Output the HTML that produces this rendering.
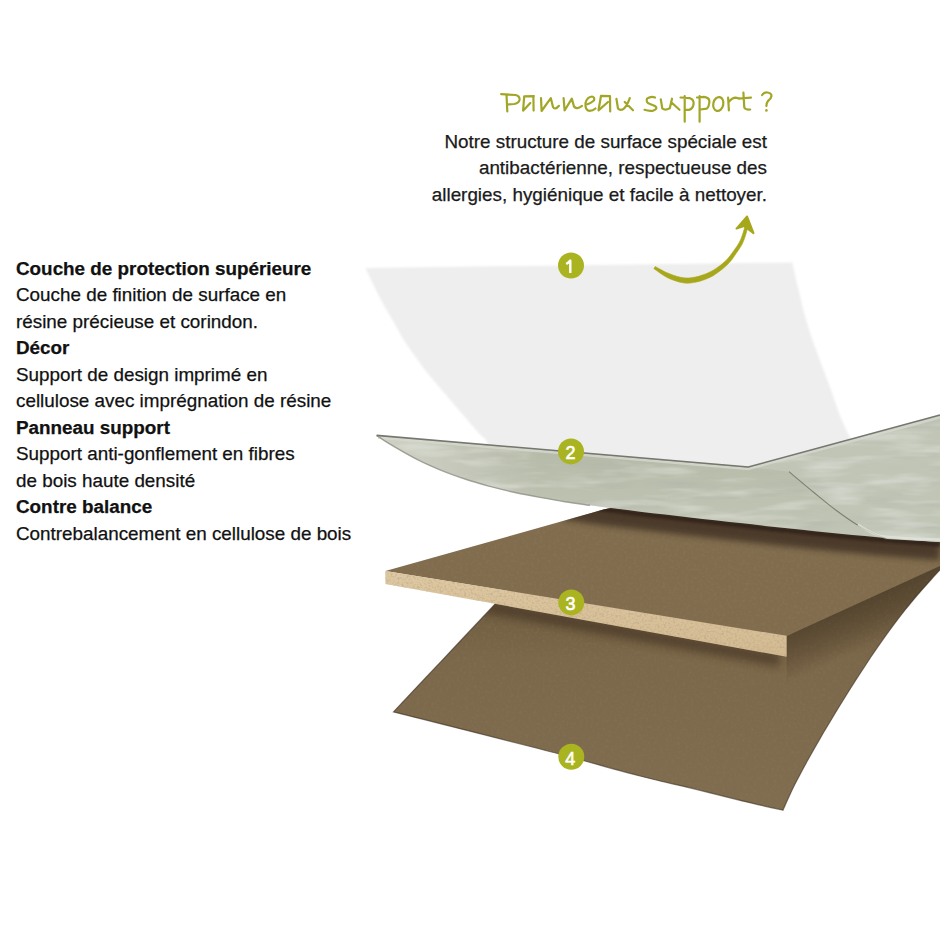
<!DOCTYPE html>
<html><head><meta charset="utf-8">
<style>
html,body{margin:0;padding:0;background:#fff;}
body{width:940px;height:940px;position:relative;overflow:hidden;font-family:"Liberation Sans",sans-serif;}
svg{position:absolute;left:0;top:0;}
.t{position:absolute;font-size:18.85px;line-height:26.5px;color:#111;white-space:nowrap;-webkit-text-stroke:0.25px #111;}
.left{left:16px;top:255.5px;}
.right{right:173px;top:128.5px;text-align:right;color:#1c1c1c;}
</style></head>
<body>
<svg width="940" height="940" viewBox="0 0 940 940">
<defs>
<linearGradient id="g4" gradientUnits="userSpaceOnUse" x1="0" y1="600" x2="0" y2="800"><stop offset="0" stop-color="#6f5d40"/><stop offset="0.3" stop-color="#7b6749"/><stop offset="1" stop-color="#806c4e"/></linearGradient>
<linearGradient id="gb" x1="0" y1="0" x2="0" y2="1"><stop offset="0" stop-color="#dfc9a2"/><stop offset="1" stop-color="#d3ba91"/></linearGradient>
<linearGradient id="g2" gradientUnits="userSpaceOnUse" x1="0" y1="440" x2="0" y2="520"><stop offset="0" stop-color="#b5b9a6"/><stop offset="1" stop-color="#c0c4b4"/></linearGradient>
<linearGradient id="gr" gradientUnits="userSpaceOnUse" x1="863" y1="601" x2="881" y2="641"><stop offset="0" stop-color="#3a2c1c" stop-opacity="0.5"/><stop offset="0.5" stop-color="#3a2c1c" stop-opacity="0.3"/><stop offset="1" stop-color="#3a2c1c" stop-opacity="0"/></linearGradient>
<linearGradient id="gs" gradientUnits="userSpaceOnUse" x1="586" y1="620.4" x2="580.7" y2="652"><stop offset="0" stop-color="#3e3020" stop-opacity="0.45"/><stop offset="1" stop-color="#3e3020" stop-opacity="0"/></linearGradient>
<linearGradient id="gt" gradientUnits="userSpaceOnUse" x1="0" y1="500" x2="0" y2="560"><stop offset="0" stop-color="#3e3020" stop-opacity="0.6"/><stop offset="1" stop-color="#3e3020" stop-opacity="0"/></linearGradient>
<filter id="bl4" x="-5%" y="-50%" width="110%" height="200%"><feGaussianBlur stdDeviation="4"/></filter>
<filter id="bl3" x="-5%" y="-50%" width="110%" height="200%"><feGaussianBlur stdDeviation="3"/></filter>
<filter id="bl1" x="-5%" y="-50%" width="110%" height="200%"><feGaussianBlur stdDeviation="1"/></filter>
<filter id="speck" x="0" y="0" width="100%" height="100%"><feTurbulence type="fractalNoise" baseFrequency="0.45" numOctaves="2" seed="7" result="n"/><feColorMatrix in="n" type="matrix" values="0 0 0 0 0.45  0 0 0 0 0.36  0 0 0 0 0.25  3 0 0 0 -1.35" result="a"/><feComposite in="a" in2="SourceGraphic" operator="in"/></filter>
<filter id="grain" x="0" y="0" width="100%" height="100%"><feTurbulence type="fractalNoise" baseFrequency="0.35" numOctaves="2" seed="3" result="n"/><feColorMatrix in="n" type="matrix" values="0 0 0 0 0.3  0 0 0 0 0.24  0 0 0 0 0.16  2 0 0 0 -0.95" result="a"/><feComposite in="a" in2="SourceGraphic" operator="in"/></filter>
<filter id="marb" x="0" y="0" width="100%" height="100%"><feTurbulence type="fractalNoise" baseFrequency="0.012 0.1" numOctaves="4" seed="11" result="n"/><feColorMatrix in="n" type="matrix" values="0 0 0 0 0.42  0 0 0 0 0.44  0 0 0 0 0.4  3.2 0 0 0 -1.6" result="a"/><feComposite in="a" in2="SourceGraphic" operator="in"/></filter>
<filter id="marbl" x="0" y="0" width="100%" height="100%"><feTurbulence type="fractalNoise" baseFrequency="0.015 0.09" numOctaves="3" seed="5" result="n"/><feColorMatrix in="n" type="matrix" values="0 0 0 0 0.95  0 0 0 0 0.96  0 0 0 0 0.94  3.2 0 0 0 -1.55" result="a"/><feComposite in="a" in2="SourceGraphic" operator="in"/></filter>
<filter id="bl07" x="-5%" y="-5%" width="110%" height="110%"><feGaussianBlur stdDeviation="0.9"/></filter>
<linearGradient id="gtip" gradientUnits="userSpaceOnUse" x1="376" y1="0" x2="540" y2="0"><stop offset="0" stop-color="#fff" stop-opacity="0.35"/><stop offset="1" stop-color="#fff" stop-opacity="0"/></linearGradient>
<clipPath id="c4"><path d="M520,578 L700,545 L940,520 L940,569.8 C938.5,571.5 934.5,575.8 930.7,580.0 C926.9,584.2 921.7,590.0 917.4,595.0 C913.1,600.0 909.1,605.0 905.1,610.0 C901.1,615.0 897.3,620.0 893.6,625.0 C889.9,630.0 886.2,635.0 882.7,640.0 C879.2,645.0 875.7,650.0 872.3,655.0 C868.9,660.0 865.7,665.0 862.4,670.0 C859.1,675.0 855.9,680.0 852.7,685.0 C849.5,690.0 846.4,695.0 843.3,700.0 C840.2,705.0 837.1,710.0 834.1,715.0 C831.1,720.0 828.1,725.0 825.1,730.0 C822.1,735.0 819.3,740.0 816.4,745.0 C813.5,750.0 810.7,755.0 807.9,760.0 C805.1,765.0 802.4,770.0 799.8,775.0 C797.2,780.0 794.9,784.1 792.1,790.0 C789.3,795.9 784.5,806.8 783.0,810.2 C776.2,808.7 757.4,804.6 742.1,800.9 C726.8,797.2 708.0,792.2 691.0,788.1 C674.0,784.0 665.5,782.6 640.0,776.0 C614.5,769.4 579.3,759.2 538.2,748.5 C497.1,737.8 417.6,718.0 393.5,711.9 C401.8,703.0 426.8,676.5 443.5,658.8 C460.2,641.1 480.8,619.2 493.5,605.7 C506.2,592.2 515.6,582.2 520.0,577.5 Z"/></clipPath>
<clipPath id="c3"><path d="M385.4,571 L604.5,509.3 L940,445 L940,566 L786.6,636 Z"/></clipPath>
</defs>
<path d="M520,578 L700,545 L940,520 L940,569.8 C938.5,571.5 934.5,575.8 930.7,580.0 C926.9,584.2 921.7,590.0 917.4,595.0 C913.1,600.0 909.1,605.0 905.1,610.0 C901.1,615.0 897.3,620.0 893.6,625.0 C889.9,630.0 886.2,635.0 882.7,640.0 C879.2,645.0 875.7,650.0 872.3,655.0 C868.9,660.0 865.7,665.0 862.4,670.0 C859.1,675.0 855.9,680.0 852.7,685.0 C849.5,690.0 846.4,695.0 843.3,700.0 C840.2,705.0 837.1,710.0 834.1,715.0 C831.1,720.0 828.1,725.0 825.1,730.0 C822.1,735.0 819.3,740.0 816.4,745.0 C813.5,750.0 810.7,755.0 807.9,760.0 C805.1,765.0 802.4,770.0 799.8,775.0 C797.2,780.0 794.9,784.1 792.1,790.0 C789.3,795.9 784.5,806.8 783.0,810.2 C776.2,808.7 757.4,804.6 742.1,800.9 C726.8,797.2 708.0,792.2 691.0,788.1 C674.0,784.0 665.5,782.6 640.0,776.0 C614.5,769.4 579.3,759.2 538.2,748.5 C497.1,737.8 417.6,718.0 393.5,711.9 C401.8,703.0 426.8,676.5 443.5,658.8 C460.2,641.1 480.8,619.2 493.5,605.7 C506.2,592.2 515.6,582.2 520.0,577.5 Z" fill="url(#g4)"/>
<path d="M520,578 L700,545 L940,520 L940,569.8 C938.5,571.5 934.5,575.8 930.7,580.0 C926.9,584.2 921.7,590.0 917.4,595.0 C913.1,600.0 909.1,605.0 905.1,610.0 C901.1,615.0 897.3,620.0 893.6,625.0 C889.9,630.0 886.2,635.0 882.7,640.0 C879.2,645.0 875.7,650.0 872.3,655.0 C868.9,660.0 865.7,665.0 862.4,670.0 C859.1,675.0 855.9,680.0 852.7,685.0 C849.5,690.0 846.4,695.0 843.3,700.0 C840.2,705.0 837.1,710.0 834.1,715.0 C831.1,720.0 828.1,725.0 825.1,730.0 C822.1,735.0 819.3,740.0 816.4,745.0 C813.5,750.0 810.7,755.0 807.9,760.0 C805.1,765.0 802.4,770.0 799.8,775.0 C797.2,780.0 794.9,784.1 792.1,790.0 C789.3,795.9 784.5,806.8 783.0,810.2 C776.2,808.7 757.4,804.6 742.1,800.9 C726.8,797.2 708.0,792.2 691.0,788.1 C674.0,784.0 665.5,782.6 640.0,776.0 C614.5,769.4 579.3,759.2 538.2,748.5 C497.1,737.8 417.6,718.0 393.5,711.9 C401.8,703.0 426.8,676.5 443.5,658.8 C460.2,641.1 480.8,619.2 493.5,605.7 C506.2,592.2 515.6,582.2 520.0,577.5 Z" fill="#000" filter="url(#grain)" opacity="0.25"/>
<path d="M940,569.8 C938.5,571.5 934.5,575.8 930.7,580.0 C926.9,584.2 921.7,590.0 917.4,595.0 C913.1,600.0 909.1,605.0 905.1,610.0 C901.1,615.0 897.3,620.0 893.6,625.0 C889.9,630.0 886.2,635.0 882.7,640.0 C879.2,645.0 875.7,650.0 872.3,655.0 C868.9,660.0 865.7,665.0 862.4,670.0 C859.1,675.0 855.9,680.0 852.7,685.0 C849.5,690.0 846.4,695.0 843.3,700.0 C840.2,705.0 837.1,710.0 834.1,715.0 C831.1,720.0 828.1,725.0 825.1,730.0 C822.1,735.0 819.3,740.0 816.4,745.0 C813.5,750.0 810.7,755.0 807.9,760.0 C805.1,765.0 802.4,770.0 799.8,775.0 C797.2,780.0 794.9,784.1 792.1,790.0 C789.3,795.9 784.5,806.8 783.0,810.2 C776.2,808.7 757.4,804.6 742.1,800.9 C726.8,797.2 708.0,792.2 691.0,788.1 C674.0,784.0 665.5,782.6 640.0,776.0 C614.5,769.4 579.3,759.2 538.2,748.5 C497.1,737.8 417.6,718.0 393.5,711.9 C401.8,703.0 426.8,676.5 443.5,658.8 C460.2,641.1 480.8,619.2 493.5,605.7 C506.2,592.2 515.6,582.2 520.0,577.5" fill="none" stroke="#3b2e1f" stroke-width="1.2" opacity="0.6"/>
<g clip-path="url(#c4)">
<path d="M786.6,636 L940,562 L940,760 L786.6,760 Z" fill="url(#gr)"/>
<path d="M385.4,588 L780,660" fill="none" stroke="#3a2c1c" stroke-width="14" opacity="0.55" filter="url(#bl4)"/>
</g>
<path d="M385.4,571 L604.5,509.3 L940,445 L940,566 L786.6,636 Z" fill="#816d4e"/>
<path d="M385.4,571 L604.5,509.3 L940,445 L940,566 L786.6,636 Z" fill="#000" filter="url(#grain)" opacity="0.25"/>
<g clip-path="url(#c3)">
<path d="M565,501.7 C569.2,502.3 581.7,504.1 590.0,505.3 C598.3,506.5 606.7,507.5 615.0,508.6 C623.3,509.7 631.7,510.7 640.0,511.7 C648.3,512.7 656.7,513.6 665.0,514.6 C673.3,515.6 681.7,516.5 690.0,517.5 C698.3,518.5 706.7,519.4 715.0,520.3 C723.3,521.2 731.7,522.2 740.0,523.1 C748.3,524.0 756.7,525.0 765.0,525.9 C773.3,526.8 781.7,527.7 790.0,528.6 C798.3,529.5 806.7,530.4 815.0,531.2 C823.3,532.1 831.7,532.9 840.0,533.7 C848.3,534.5 856.7,535.3 865.0,536.1 C873.3,536.9 881.7,537.6 890.0,538.3 C898.3,539.0 906.7,539.6 915.0,540.3 C923.3,540.9 935.8,541.9 940.0,542.2" fill="none" stroke="#35281a" stroke-width="22" opacity="0.7" filter="url(#bl3)" transform="translate(0,7)"/>
<path d="M565,501.7 C569.2,502.3 581.7,504.1 590.0,505.3 C598.3,506.5 606.7,507.5 615.0,508.6 C623.3,509.7 631.7,510.7 640.0,511.7 C648.3,512.7 656.7,513.6 665.0,514.6 C673.3,515.6 681.7,516.5 690.0,517.5 C698.3,518.5 706.7,519.4 715.0,520.3 C723.3,521.2 731.7,522.2 740.0,523.1 C748.3,524.0 756.7,525.0 765.0,525.9 C773.3,526.8 781.7,527.7 790.0,528.6 C798.3,529.5 806.7,530.4 815.0,531.2 C823.3,532.1 831.7,532.9 840.0,533.7 C848.3,534.5 856.7,535.3 865.0,536.1 C873.3,536.9 881.7,537.6 890.0,538.3 C898.3,539.0 906.7,539.6 915.0,540.3 C923.3,540.9 935.8,541.9 940.0,542.2" fill="none" stroke="#2a1f14" stroke-width="5" opacity="0.7" filter="url(#bl1)" transform="translate(0,2)"/>
</g>
<path d="M385.4,571 L786.6,635.8 L786.6,656.8 L385.4,584 Z" fill="url(#gb)"/>
<path d="M385.4,571 L786.6,635.8 L786.6,656.8 L385.4,584 Z" fill="#000" filter="url(#speck)" opacity="0.5"/>
<path d="M365.5,268 L792.3,262.5 C793.2,266.4 795.4,276.6 797.7,286.2 C800.0,295.8 803.0,309.2 806.2,320.2 C809.4,331.2 812.9,341.1 816.8,352.1 C820.7,363.1 825.7,375.6 829.6,386.2 C833.5,396.8 837.0,407.9 840.2,416.0 C843.4,424.1 846.9,430.9 848.7,435.1 C850.5,439.3 850.6,440.0 851.0,441.0 L853,470 L490,470 L487,442 C486.8,441.6 487.5,441.6 485.5,439.4 C483.5,437.2 478.8,433.0 474.9,428.7 C471.0,424.4 466.4,418.8 462.1,413.8 C457.9,408.8 453.6,403.9 449.4,398.9 C445.1,393.9 440.5,388.6 436.6,384.0 C432.7,379.4 429.6,375.9 426.0,371.3 C422.4,366.7 418.9,361.4 415.3,356.4 C411.8,351.4 407.9,346.5 404.7,341.5 C401.5,336.5 399.0,331.6 396.2,326.6 C393.4,321.6 390.3,316.3 387.7,311.7 C385.1,307.1 382.9,303.5 380.5,298.9 C378.1,294.3 375.5,289.1 373.0,284.0 C370.5,278.9 366.8,270.7 365.5,268.0 Z" fill="#eeeeee" filter="url(#bl07)"/>
<path d="M376.6,435.4 L748.3,467 L940,415 L940,542 C935.8,541.9 923.3,540.9 915.0,540.3 C906.7,539.6 898.3,539.0 890.0,538.3 C881.7,537.6 873.3,536.9 865.0,536.1 C856.7,535.3 848.3,534.5 840.0,533.7 C831.7,532.9 823.3,532.1 815.0,531.2 C806.7,530.4 798.3,529.5 790.0,528.6 C781.7,527.7 773.3,526.8 765.0,525.9 C756.7,525.0 748.3,524.0 740.0,523.1 C731.7,522.2 723.3,521.2 715.0,520.3 C706.7,519.4 698.3,518.5 690.0,517.5 C681.7,516.5 673.3,515.6 665.0,514.6 C656.7,513.6 648.3,512.7 640.0,511.7 C631.7,510.7 623.3,509.7 615.0,508.6 C606.7,507.5 598.3,506.5 590.0,505.3 C581.7,504.1 573.3,503.0 565.0,501.7 C556.7,500.4 548.3,498.9 540.0,497.4 C531.7,495.9 523.3,494.3 515.0,492.5 C506.7,490.7 498.3,488.6 490.0,486.4 C481.7,484.1 473.3,481.8 465.0,479.0 C456.7,476.2 448.3,473.2 440.0,469.8 C431.7,466.4 423.3,462.7 415.0,458.4 C406.7,454.1 396.4,448.0 390.0,444.2 C383.6,440.4 378.8,436.9 376.6,435.4 Z" fill="url(#g2)"/>
<path d="M748.3,467 L940,415 L940,542 L886.5,539 C884.8,538.2 880.6,536.7 876.0,534.5 C871.4,532.3 865.7,530.1 859.0,526.0 C852.3,521.9 843.1,515.5 835.7,510.0 C828.3,504.5 822.3,499.4 814.5,493.0 C806.7,486.6 793.2,475.2 789.0,471.7 Z" fill="#c0c5b6"/>
<path d="M376.6,435.4 L748.3,467 L940,415 L940,542 C935.8,541.9 923.3,540.9 915.0,540.3 C906.7,539.6 898.3,539.0 890.0,538.3 C881.7,537.6 873.3,536.9 865.0,536.1 C856.7,535.3 848.3,534.5 840.0,533.7 C831.7,532.9 823.3,532.1 815.0,531.2 C806.7,530.4 798.3,529.5 790.0,528.6 C781.7,527.7 773.3,526.8 765.0,525.9 C756.7,525.0 748.3,524.0 740.0,523.1 C731.7,522.2 723.3,521.2 715.0,520.3 C706.7,519.4 698.3,518.5 690.0,517.5 C681.7,516.5 673.3,515.6 665.0,514.6 C656.7,513.6 648.3,512.7 640.0,511.7 C631.7,510.7 623.3,509.7 615.0,508.6 C606.7,507.5 598.3,506.5 590.0,505.3 C581.7,504.1 573.3,503.0 565.0,501.7 C556.7,500.4 548.3,498.9 540.0,497.4 C531.7,495.9 523.3,494.3 515.0,492.5 C506.7,490.7 498.3,488.6 490.0,486.4 C481.7,484.1 473.3,481.8 465.0,479.0 C456.7,476.2 448.3,473.2 440.0,469.8 C431.7,466.4 423.3,462.7 415.0,458.4 C406.7,454.1 396.4,448.0 390.0,444.2 C383.6,440.4 378.8,436.9 376.6,435.4 Z" fill="#000" filter="url(#marb)" opacity="0.3"/>
<path d="M376.6,435.4 L748.3,467 L940,415 L940,542 C935.8,541.9 923.3,540.9 915.0,540.3 C906.7,539.6 898.3,539.0 890.0,538.3 C881.7,537.6 873.3,536.9 865.0,536.1 C856.7,535.3 848.3,534.5 840.0,533.7 C831.7,532.9 823.3,532.1 815.0,531.2 C806.7,530.4 798.3,529.5 790.0,528.6 C781.7,527.7 773.3,526.8 765.0,525.9 C756.7,525.0 748.3,524.0 740.0,523.1 C731.7,522.2 723.3,521.2 715.0,520.3 C706.7,519.4 698.3,518.5 690.0,517.5 C681.7,516.5 673.3,515.6 665.0,514.6 C656.7,513.6 648.3,512.7 640.0,511.7 C631.7,510.7 623.3,509.7 615.0,508.6 C606.7,507.5 598.3,506.5 590.0,505.3 C581.7,504.1 573.3,503.0 565.0,501.7 C556.7,500.4 548.3,498.9 540.0,497.4 C531.7,495.9 523.3,494.3 515.0,492.5 C506.7,490.7 498.3,488.6 490.0,486.4 C481.7,484.1 473.3,481.8 465.0,479.0 C456.7,476.2 448.3,473.2 440.0,469.8 C431.7,466.4 423.3,462.7 415.0,458.4 C406.7,454.1 396.4,448.0 390.0,444.2 C383.6,440.4 378.8,436.9 376.6,435.4 Z" fill="#000" filter="url(#marbl)" opacity="0.3"/>
<path d="M376.6,435.4 L748.3,467 L940,415 L940,542 C935.8,541.9 923.3,540.9 915.0,540.3 C906.7,539.6 898.3,539.0 890.0,538.3 C881.7,537.6 873.3,536.9 865.0,536.1 C856.7,535.3 848.3,534.5 840.0,533.7 C831.7,532.9 823.3,532.1 815.0,531.2 C806.7,530.4 798.3,529.5 790.0,528.6 C781.7,527.7 773.3,526.8 765.0,525.9 C756.7,525.0 748.3,524.0 740.0,523.1 C731.7,522.2 723.3,521.2 715.0,520.3 C706.7,519.4 698.3,518.5 690.0,517.5 C681.7,516.5 673.3,515.6 665.0,514.6 C656.7,513.6 648.3,512.7 640.0,511.7 C631.7,510.7 623.3,509.7 615.0,508.6 C606.7,507.5 598.3,506.5 590.0,505.3 C581.7,504.1 573.3,503.0 565.0,501.7 C556.7,500.4 548.3,498.9 540.0,497.4 C531.7,495.9 523.3,494.3 515.0,492.5 C506.7,490.7 498.3,488.6 490.0,486.4 C481.7,484.1 473.3,481.8 465.0,479.0 C456.7,476.2 448.3,473.2 440.0,469.8 C431.7,466.4 423.3,462.7 415.0,458.4 C406.7,454.1 396.4,448.0 390.0,444.2 C383.6,440.4 378.8,436.9 376.6,435.4 Z" fill="url(#gtip)"/>
<path d="M378,437.5 L748.3,469 L940,417.5" fill="none" stroke="#d6d8ce" stroke-width="2.5" opacity="0.8"/>
<path d="M376.6,435.4 C378.8,436.9 383.6,440.4 390.0,444.2 C396.4,448.0 406.7,454.1 415.0,458.4 C423.3,462.7 431.7,466.4 440.0,469.8 C448.3,473.2 456.7,476.2 465.0,479.0 C473.3,481.8 481.7,484.1 490.0,486.4 C498.3,488.6 506.7,490.7 515.0,492.5 C523.3,494.3 531.7,495.9 540.0,497.4 C548.3,498.9 556.7,500.4 565.0,501.7 C573.3,503.0 585.8,504.7 590.0,505.3" fill="none" stroke="#8e9085" stroke-width="1.4" opacity="0.8"/>
<path d="M376.6,435.4 L748.3,467 L940,415" fill="none" stroke="#75766e" stroke-width="1.6"/>
<path d="M789,471.7 C793.2,475.2 806.7,486.6 814.5,493.0 C822.3,499.4 828.3,504.5 835.7,510.0 C843.1,515.5 852.3,521.9 859.0,526.0 C865.7,530.1 871.4,532.3 876.0,534.5 C880.6,536.7 884.8,538.2 886.5,539.0" fill="none" stroke="#7d806f" stroke-width="1.1"/>
<path d="M858,524.5 C866,530 872,533.5 880,535.8 C895,538.5 915,539 940,539.6" fill="none" stroke="#e2e5dc" stroke-width="2.4" opacity="0.75"/>
<path d="M653.9,268.7 L656.2,270.3 L659.5,272.7 L663.3,275.2 L667.1,277.5 L670.9,279.2 L675.0,280.7 L679.0,282.0 L682.9,282.8 L686.6,283.2 L690.0,283.1 L693.3,282.6 L696.5,282.0 L699.9,281.2 L703.4,280.1 L706.7,278.8 L709.8,277.4 L712.7,275.9 L715.3,274.3 L717.8,272.5 L720.3,270.7 L722.7,268.8 L725.0,266.8 L727.3,264.7 L729.4,262.5 L731.4,260.2 L733.2,257.8 L734.9,255.3 L736.4,253.0 L738.0,250.8 L739.5,248.5 L740.9,246.3 L742.2,244.1 L743.2,241.8 L744.1,239.6 L744.8,237.5 L745.5,235.5 L746.1,233.6 L746.6,231.8 L747.0,230.1 L747.3,228.3 L747.7,226.3 L748.0,224.3 L748.2,222.5 L748.4,221.2 L745.6,220.8 L745.4,222.1 L745.2,223.9 L744.8,225.8 L744.5,227.7 L744.1,229.4 L743.6,231.0 L743.1,232.7 L742.5,234.5 L741.8,236.5 L741.1,238.5 L740.2,240.5 L739.2,242.5 L738.0,244.6 L736.7,246.6 L735.1,248.8 L733.6,251.0 L731.9,253.3 L730.2,255.6 L728.4,257.8 L726.6,259.9 L724.5,261.8 L722.4,263.7 L720.1,265.6 L717.7,267.3 L715.3,268.9 L712.9,270.4 L710.4,271.7 L707.8,273.0 L704.9,274.2 L701.7,275.3 L698.6,276.3 L695.5,277.0 L692.5,277.5 L689.6,277.9 L686.7,278.0 L683.7,277.8 L680.2,277.2 L676.4,276.2 L672.6,274.9 L668.9,273.5 L665.1,271.9 L661.2,269.8 L657.7,267.9 L655.3,266.5 Z" fill="#a7a71c" stroke="#a7a71c" stroke-width="0.6" stroke-linejoin="round"/>
<path d="M747.1,216.5 L736.5,228.6 L744,226 L753.5,233.1 Z" fill="#a7a71c" stroke="#a7a71c" stroke-width="2" stroke-linejoin="round"/>
<g fill="#aab421">
<circle cx="571" cy="265.5" r="13"/><circle cx="571" cy="451.4" r="13"/><circle cx="571.3" cy="602.4" r="13"/><circle cx="571.3" cy="756.7" r="13"/>
</g>
<g fill="#fff" stroke="#fff" stroke-width="0.6" font-family="Liberation Sans" font-size="18" text-anchor="middle">
<text x="570.4" y="458.8">2</text><text x="570.4" y="609.7">3</text><text x="570.2" y="764.8">4</text>
</g>
<g fill="none" stroke="#a2a627" stroke-width="2.2" stroke-linecap="round" stroke-linejoin="round">

<path d="M501.2,94.2 L515.6,95 Q520,96 519.5,100 Q518.5,103.5 514,104 L508.6,104.4 M506.5,94.5 L507.3,111.5"/>
<path d="M533.9,96.1 L524.2,96.4 L523.1,110.7 L530.3,103 M533.4,96.4 L533.6,110.6"/>
<path d="M541,98 L541.6,111 L550.8,98.1 L553,107 Q555,110.5 559,105.8"/>
<path d="M563.6,98 L564.6,110.5 L571.8,98.6 L574,106.5 Q576.5,110 582,105.8"/>
<path d="M585.5,105 Q590,104 594,100.5 Q595,97 592,96.5 Q587,97 585.5,103 Q585,110.5 589.5,110.8 Q593,110.8 595.5,108.5"/>
<path d="M610,96.2 L601,95.8 L598.5,110.3 L608,102 M610,96.2 L610.2,111.5"/>
<path d="M616.4,98.8 L618,108.5 Q620,110.8 623.5,109 Q627,106 629.8,98.1 M624.7,102 L633,110.3"/>
<path d="M655,97.5 Q651,96 647,98.7 Q645.5,102.5 650,104 L655,106 Q658.5,108.5 653.4,110.6 Q649,111.3 644.5,109.8"/>
<path d="M660.8,99.4 L662.3,108.5 Q665,110.8 669.8,108.3 L672,98.7 M671,102 L679.5,109.8"/>
<path d="M684.7,96 L684.7,121.7 M680.5,97.5 L690,98.2 Q694,99.5 693.6,104 Q692.8,109 689,109.8 L684.7,109.8"/>
<path d="M699.6,96 L699.6,121.7 M697,97.5 L704,96.8 Q709.5,97.5 709.4,101.5 Q709,107 706.7,108.7 L700.5,109.5"/>
<ellipse cx="718.3" cy="104" rx="5" ry="7" transform="rotate(12 718.3 104)"/>
<path d="M728.1,97.6 L728.9,110.4 M728.9,101.9 Q732,97.6 735.7,97.6 L739.1,98.5"/>
<path d="M743.4,92.5 L744.3,107.5 Q745,109.8 750.2,109.5 M739,98.5 L751,97.6"/>
<path d="M762.1,95 Q764,92.2 767.2,92.5 Q771.5,93 771.5,96 Q771,99 768,101 Q766.4,103 766.4,106.1"/>

</g>
<circle cx="766.4" cy="110.4" r="1.3" fill="#a2a627"/>
<path d="M566.2,264 Q568.6,262.6 570.3,260.6 L570.3,273" fill="none" stroke="#fff" stroke-width="2.4" stroke-linejoin="round"/>
</svg>
<div class="t left"><b>Couche de protection supérieure</b><br>Couche de finition de surface en<br>résine précieuse et corindon.<br><b>Décor</b><br>Support de design imprimé en<br>cellulose avec imprégnation de résine<br><b>Panneau support</b><br>Support anti-gonflement en fibres<br>de bois haute densité<br><b>Contre balance</b><br>Contrebalancement en cellulose de bois</div>
<div class="t right">Notre structure de surface spéciale est<br>antibactérienne, respectueuse des<br>allergies, hygiénique et facile à nettoyer.</div>
</body></html>
